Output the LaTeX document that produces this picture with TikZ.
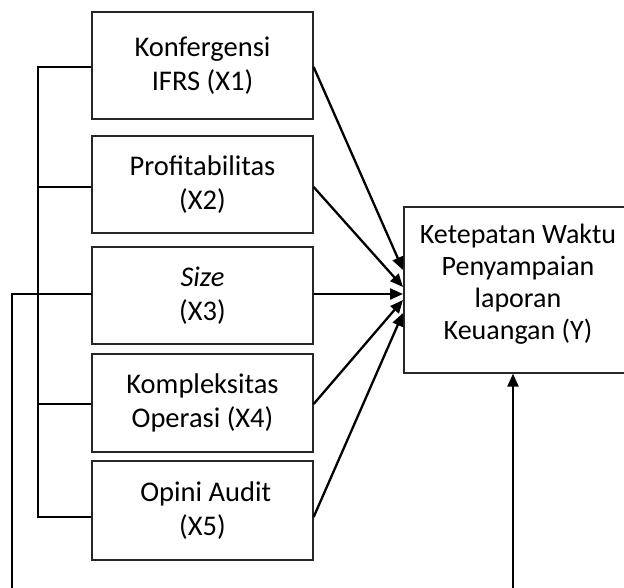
\documentclass[tikz,border=0pt]{standalone}
\usepackage{fontspec}
\setmainfont{Carlito}
\usetikzlibrary{arrows.meta}
\begin{document}
\begin{tikzpicture}[x=1pt,y=-1pt,
  box/.style={draw=black!85, line width=1.3pt, inner sep=0pt, minimum width=221pt, align=center,
    font=\fontsize{28.5}{34}\selectfont},
  conn/.style={line width=2.3pt},
  arr/.style={line width=2.3pt, -{Triangle[length=13pt,width=11pt]}}]
\useasboundingbox (0,0) rectangle (624,587);
\node[box, minimum height=107pt] (x1) at (202.5,65.5) {Konfergensi\\IFRS (X1)};
\node[box, minimum height=97pt] (x2) at (202.5,184.5) {Profitabilitas\\(X2)};
\node[box, minimum height=97pt] (x3) at (202.5,295.5) {\textit{Size}\\(X3)};
\node[box, minimum height=98pt] (x4) at (202.5,403) {Kompleksitas\\Operasi (X4)};
\node[box, minimum height=99pt] (x5) at (202.5,510.5) {\ Opini Audit\\(X5)};
\node[box, minimum width=228pt, minimum height=166pt] (y) at (518,290) {};
\node[inner sep=0pt, align=center, font=\fontsize{28}{32}\selectfont] (yt) at (518,284)
  {Ketepatan Waktu\\Penyampaian\\laporan\\Keuangan (Y)};
% left bus
\coordinate (b1) at (38,67);
\coordinate (b2) at (38,187);
\coordinate (b4) at (38,404);
\coordinate (b5) at (38,517);
\draw[conn] (b1 -| x1.west) -- (b1) -- (b5) -- (b5 -| x5.west);
\draw[conn] (b2) -- (b2 -| x2.west);
\draw[conn] (b4) -- (b4 -| x4.west);
% size line
\coordinate (lb) at (12,590);
\coordinate (s3) at (92,294);
\draw[conn] (s3) -| (lb);
% arrows to Y
\coordinate (t1) at (403,270);
\coordinate (t2) at (403,287);
\coordinate (t3) at (403,294);
\coordinate (t4) at (403,300);
\coordinate (t5) at (403,313);
\draw[arr] (x1.east |- b1) -- (t1);
\draw[arr] (x2.east |- b2) -- (t2);
\draw[arr] (x3.east |- s3) -- (t3);
\draw[arr] (x4.east |- b4) -- (t4);
\draw[arr] (x5.east |- b5) -- (t5);
% up arrow
\coordinate (rb) at (513,590);
\draw[arr] (rb) -- (rb |- y.south);
\end{tikzpicture}
\end{document}
